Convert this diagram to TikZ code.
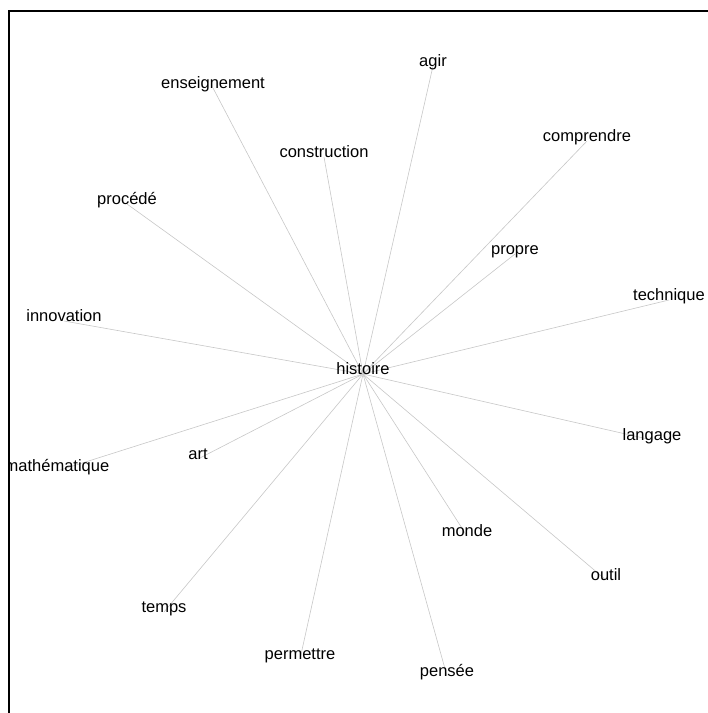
\documentclass[tikz,border=0pt]{standalone}
\usepackage{fontspec}
\setmainfont{Liberation Sans}
\usetikzlibrary{backgrounds}

\begin{document}
\begin{tikzpicture}[x=1pt, y=-1pt,
  word/.style={anchor=base, inner sep=0pt, font=\fontsize{16.5}{19}\selectfont},
  edge/.style={draw=black!22, line width=.6pt}]
\useasboundingbox (0,0) rectangle (708,713);
\begin{scope}
\clip (10,12) rectangle (708,713);
\node[word] (histoire) at (363,374) {histoire};
\foreach \nm/\txt/\x/\y in {ens/enseignement/213/88, agir/agir/433/66, cons/construction/324/157,
  comp/comprendre/587/141, proc/procédé/127/204, prop/propre/515/254,
  tech/technique/669/300, inno/innovation/64/321, lang/langage/652/440,
  math/mathématique/57/471, art/art/198/459, monde/monde/467/536,
  outil/outil/606/580, temps/temps/164/612, perm/permettre/300/659, pens/pensée/447/676} {
  \node[word] (\nm) at (\x,\y) {\txt};
}
\end{scope}
\begin{scope}[on background layer]
\foreach \nm in {ens,agir,cons,comp,proc,prop,tech,inno,lang,math,art,monde,outil,temps,perm,pens}
  \draw[edge] (histoire.base) -- (\nm.base);
\end{scope}
\draw[line width=2.5pt] (9,713) -- (9,11) -- (708,11);
\end{tikzpicture}
\end{document}
